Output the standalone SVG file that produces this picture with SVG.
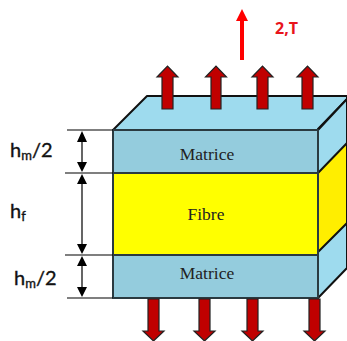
<svg xmlns="http://www.w3.org/2000/svg" width="347" height="341" viewBox="0 0 347 341">
<style>
.e{stroke:#111;stroke-width:2;stroke-linejoin:round}
.f{stroke:#2a3a40;stroke-width:2;stroke-linejoin:round}
.d{stroke:#000;stroke-width:1.2;fill:none}
.h{fill:#000;stroke:none}
.ar{fill:#c00000;stroke:#222;stroke-width:1.2;stroke-linejoin:miter}
.s{font-family:"Liberation Serif",serif;font-size:17.500px;fill:#222;text-anchor:middle}
.l{font-family:Lato,"Open Sans",sans-serif;font-size:20px;fill:#111;stroke:#111;stroke-width:.35}
.sub{font-size:13px}
</style>
<rect width="347" height="341" fill="#fff"/>
<g id="block-top"><path class="e" fill="#9edbee" d="M113 130L147 96H347V99L318 129V130Z"/><path class="e" fill="#9edbee" d="M318 130L347 99V268L318 298Z"/></g>
<g id="fibre-side"><path class="e" fill="#ffee00" d="M318 173L347 143V223L318 252Z"/></g>
<g id="matrice-top"><rect class="f" fill="#94ccdd" x="113" y="130" width="205" height="43"/><text class="s" x="207" y="160">Matrice</text></g>
<g id="fibre"><rect class="f" fill="#ffff00" x="113" y="173" width="205" height="82"/><text class="s" x="206" y="220">Fibre</text></g>
<g id="matrice-bottom"><rect class="f" fill="#94ccdd" x="113" y="255" width="205" height="43"/><text class="s" x="207" y="279">Matrice</text></g>
<g id="connectors">
<path class="ar" d="M162 109V77H157L167.500 66L178 77H173V109Z"/>
<path class="ar" d="M211 109V77H205.500L216 66L226.500 77H221V109Z"/>
<path class="ar" d="M257 109V77H252L262.500 66L273 77H268V109Z"/>
<path class="ar" d="M302 109V77H297L307.500 66L318 77H313V109Z"/>
<path class="ar" d="M148 299V331H143L153.500 341L164 331H159V299Z"/>
<path class="ar" d="M199 299V331H194L204.500 341L215 331H210V299Z"/>
<path class="ar" d="M247 299V331H242L252.500 341L263 331H258V299Z"/>
<path class="ar" d="M309 299V331H304L314.500 341L325 331H320V299Z"/>
<path d="M240 60V21H236L242 9L248 21H244V60Z" fill="#ff0000"/>
<path class="d" d="M67 130H113M65 173H113M65 255H113M67 298H113M82 136V167M82 179V249M82 261V292"/>
<path class="h" d="M82 131L87 142H77ZM82 172L87 162H77ZM82 174L87 184H77ZM82 254L87 244H77ZM82 256L87 266H77ZM82 297L87 287H77Z"/>
</g>
<text x="275" y="34" font-family="'Open Sans',Lato,sans-serif" font-weight="700" font-size="16" fill="#e8141c">2,T</text>
<text class="l" x="10" y="157">h<tspan class="sub" dy="3">m</tspan><tspan dy="-3">/2</tspan></text>
<text class="l" x="10" y="218">h<tspan class="sub" dy="3">f</tspan></text>
<text class="l" x="14" y="285">h<tspan class="sub" dy="3">m</tspan><tspan dy="-3">/2</tspan></text>
</svg>
